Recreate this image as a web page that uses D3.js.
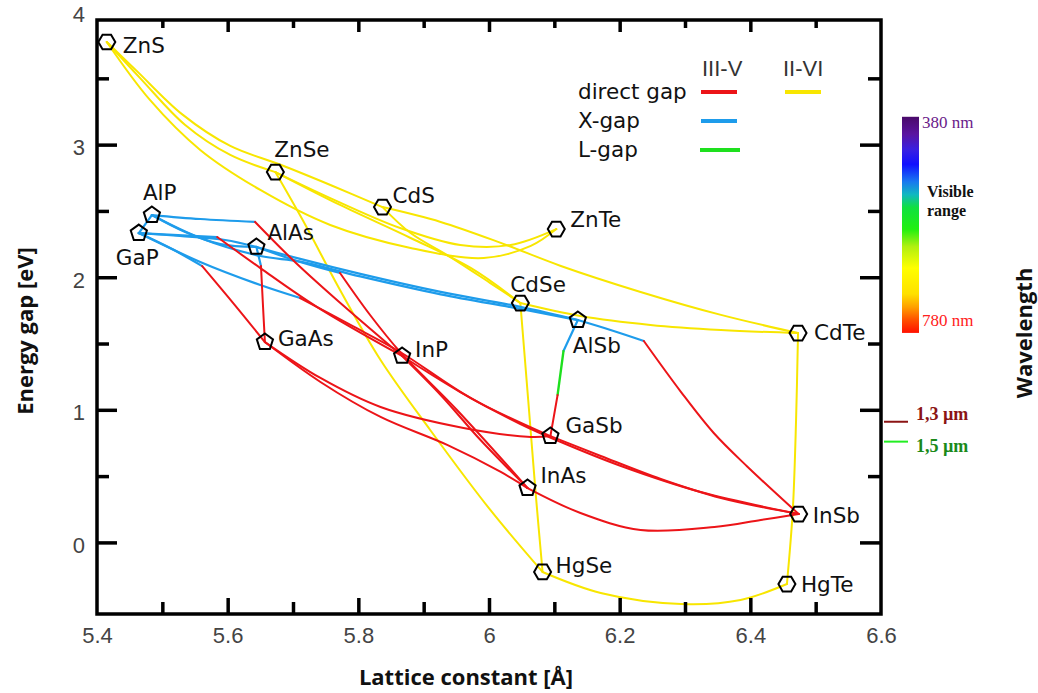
<!DOCTYPE html>
<html>
<head>
<meta charset="utf-8">
<script src="https://cdn.jsdelivr.net/npm/d3@7"></script>
<style>
  body { margin: 0; background: #fff; }
  text { font-family: "DejaVu Sans", sans-serif; }
</style>
</head>
<body>
<svg id="chart" width="1038" height="693"></svg>
<script>
// --- compounds: lattice constant [Å] and gap [eV]
const names   = ["ZnS","ZnSe","CdS","ZnTe","AlP","GaP","AlAs","GaAs","InP","CdSe","AlSb","CdTe","GaSb","InAs","InSb","HgSe","HgTe"];
const lattice = [5.415,5.673,5.837,6.103,5.484,5.464,5.644,5.657,5.867,6.048,6.136,6.473,6.094,6.059,6.474,6.082,6.456];
const gaps    = [3.774,2.793,2.529,2.363,2.469,2.333,2.228,1.511,1.406,1.805,1.677,1.579,0.802,0.410,0.214,-0.223,-0.314];
const shapes  = ["hex","hex","hex","hex","pent","pent","pent","pent","pent","hex","pent","hex","pent","pent","hex","hex","hex"];

// --- alloy curves as [a, Eg] points
const iiviCurves = [
  [[5.415,3.774],[5.466,3.502],[5.535,3.148],[5.604,2.922],[5.673,2.793]],                       // ZnS-ZnSe
  [[5.415,3.774],[5.460,3.560],[5.530,3.230],[5.604,2.990],[5.680,2.850],[5.760,2.690],[5.837,2.529]], // ZnS-CdS
  [[5.415,3.774],[5.481,3.337],[5.558,2.960],[5.650,2.658],[5.757,2.394],[5.880,2.221],[5.992,2.145],[6.064,2.236],[6.103,2.363]], // ZnS-ZnTe
  [[5.673,2.793],[5.757,2.597],[5.864,2.371],[5.956,2.243],[6.033,2.243],[6.103,2.363]],        // ZnSe-ZnTe
  [[5.673,2.793],[5.772,2.545],[5.880,2.296],[5.972,2.070],[6.048,1.805]],                      // ZnSe-CdSe
  [[5.837,2.529],[5.880,2.333],[5.941,2.152],[6.002,1.956],[6.048,1.805]],                      // CdS-CdSe
  [[5.837,2.529],[5.926,2.417],[6.018,2.259],[6.110,2.085],[6.232,1.889],[6.355,1.716],[6.473,1.579]], // CdS-CdTe
  [[6.048,1.805],[6.140,1.707],[6.247,1.640],[6.355,1.602],[6.473,1.579]],                      // CdSe-CdTe
  [[5.673,2.793],[5.719,2.394],[5.772,1.904],[5.834,1.376],[5.910,0.848],[6.002,0.245],[6.082,-0.223]], // ZnSe-HgSe
  [[6.048,1.805],[6.060,1.074],[6.071,0.395],[6.082,-0.223]],                                   // CdSe-HgSe
  [[6.473,1.579],[6.470,0.923],[6.465,0.245],[6.456,-0.314]],                                   // CdTe-HgTe
  [[6.082,-0.223],[6.171,-0.381],[6.294,-0.464],[6.385,-0.434],[6.456,-0.314]]                  // HgSe-HgTe
];

const xGapCurves = [
  [[5.484,2.469],[5.464,2.333]],                                                                 // AlP-GaP
  [[5.484,2.469],[5.535,2.341],[5.589,2.250],[5.644,2.228]],                                     // AlP-AlAs
  [[5.464,2.333],[5.527,2.311],[5.596,2.281],[5.644,2.228]],                                     // GaP-AlAs
  [[5.644,2.228],[5.711,2.138],[5.803,2.025],[5.926,1.889],[6.048,1.776],[6.136,1.677]],        // AlAs-AlSb
  [[5.484,2.469],[5.558,2.296],[5.650,2.160],[5.711,2.118],[5.803,2.006],[5.926,1.871],[6.048,1.761],[6.136,1.677]], // AlP-AlSb
  [[5.484,2.469],[5.558,2.439],[5.642,2.417]],                                                   // AlP-InP (X part)
  [[5.464,2.333],[5.584,2.303]],                                                                 // GaP-InP (X part)
  [[5.464,2.333],[5.512,2.220],[5.561,2.084]],                                                   // GaP-GaAs (X part)
  [[5.644,2.228],[5.651,2.084]],                                                                 // AlAs-GaAs (X part)
  [[5.464,2.333],[5.558,2.115],[5.650,1.941],[5.711,1.843]],                                     // GaP-GaSb (X part)
  [[5.644,2.228],[5.711,2.115],[5.772,2.032]],                                                   // AlAs-InAs (X part)
  [[6.136,1.677],[6.186,1.602],[6.237,1.519]],                                                   // AlSb-InSb (X part)
  [[6.136,1.677],[6.114,1.443]]                                                                  // AlSb-GaSb (X part)
];

const lGapCurves = [
  [[6.114,1.443],[6.105,1.112]]                                                                  // AlSb-GaSb (L part)
];

const directCurves = [
  [[5.642,2.417],[5.703,2.115],[5.762,1.851],[5.867,1.406]],                                     // AlP-InP
  [[5.584,2.303],[5.650,2.069],[5.737,1.775],[5.867,1.406]],                                     // GaP-InP
  [[5.561,2.084],[5.611,1.790],[5.657,1.511]],                                                   // GaP-GaAs
  [[5.651,2.084],[5.654,1.790],[5.657,1.511]],                                                   // AlAs-GaAs
  [[5.711,1.843],[5.788,1.640],[5.864,1.436],[5.972,1.089],[6.094,0.802]],                      // GaP-GaSb
  [[5.772,2.032],[5.818,1.715],[5.864,1.436],[5.951,0.999],[6.059,0.410]],                      // AlAs-InAs
  [[5.867,1.406],[5.926,1.112],[5.987,0.772],[6.059,0.410]],                                     // InP-InAs
  [[5.657,1.511],[5.742,1.210],[5.834,0.946],[5.936,0.735],[6.018,0.531],[6.059,0.410]],        // GaAs-InAs
  [[5.657,1.511],[5.742,1.240],[5.834,1.021],[5.961,0.863],[6.064,0.795],[6.094,0.802]],        // GaAs-GaSb
  [[6.059,0.410],[6.140,0.222],[6.232,0.094],[6.345,0.116],[6.416,0.169],[6.474,0.214]],        // InAs-InSb
  [[6.094,0.802],[6.171,0.652],[6.263,0.478],[6.355,0.335],[6.474,0.214]],                      // GaSb-InSb
  [[5.867,1.406],[5.956,1.134],[6.048,0.893],[6.110,0.757],[6.202,0.576],[6.324,0.380],[6.474,0.214]], // InP-InSb
  [[6.237,1.519],[6.294,1.134],[6.344,0.825],[6.396,0.569],[6.474,0.214]],                      // AlSb-InSb
  [[6.105,1.112],[6.094,0.802]]                                                                  // AlSb-GaSb
];

// axis ticks
const xMajor = [5.4, 5.6, 5.8, 6.0, 6.2, 6.4, 6.6];
const xMinor = [5.5, 5.7, 5.9, 6.1, 6.3, 6.5];
const xTopMajor = [5.6, 5.8, 6.0, 6.2, 6.4];
const xTopMinor = [5.5, 5.7, 5.9, 6.1, 6.3, 6.5];
const yMajor = [0, 1, 2, 3, 4];
const yMinor = [0.5, 1.5, 2.5, 3.5];

// right-hand wavelength annotations (energies)
const visibleLabels = ["380 nm", "780 nm"];
const visibleEnds = [3.21, 1.58];
const telecomLabels = ["1,3 µm", "1,5 µm"];
const telecomGaps = [0.91, 0.76];

// label offsets from marker (layout only)
const labelDx = [16,-1,10,14,-9,-23,11,13,13,-10,-5,16,15,13,14,13,14];
const labelDy = [11,-15,-4,-2,-15,32,-7,4,1,-11,33,7,-3,-5,9,1,8];

const svg = d3.select("#chart");

const x = d3.scaleLinear().domain([5.4, 6.6]).range([97, 881]);
const y = d3.scaleLinear().domain([-0.54, 3.94]).range([614, 20]);

const line = d3.line()
  .x(d => x(d[0]))
  .y(d => y(d[1]))
  .curve(d3.curveCatmullRom.alpha(0.5));

// curves
function drawCurves(curves, color, w) {
  svg.append("g").selectAll("path")
    .data(curves)
    .enter().append("path")
    .attr("d", line)
    .attr("fill", "none")
    .attr("stroke", color)
    .attr("stroke-width", w)
    .attr("stroke-linecap", "round");
}
drawCurves(iiviCurves, "#f8e600", 2);
drawCurves(xGapCurves, "#1e9ceb", 2.2);
drawCurves(lGapCurves, "#1ee01e", 2.4);
drawCurves(directCurves, "#ec1418", 2);

// axes
function styleAxis(g) {
  g.select(".domain").remove();
  g.selectAll(".tick line").attr("stroke", "#000").attr("stroke-width", 3.5);
  g.selectAll(".tick text")
    .attr("fill", "#444")
    .style("font-family", "'Liberation Sans', Arial, sans-serif")
    .style("font-size", "22px");
}

svg.append("g").attr("transform", "translate(0,614)")
  .call(d3.axisBottom(x).tickValues(xMajor).tickSize(-16).tickPadding(13).tickFormat(d3.format("")))
  .call(styleAxis)
  .call(g => g.selectAll(".tick line").filter(d => d === 5.4 || d === 6.6).remove());
svg.append("g").attr("transform", "translate(0,614)")
  .call(d3.axisBottom(x).tickValues(xMinor).tickSize(-12).tickFormat(""))
  .call(styleAxis);
svg.append("g").attr("transform", "translate(0,20)")
  .call(d3.axisTop(x).tickValues(xTopMajor).tickSize(-12).tickFormat(""))
  .call(styleAxis);
svg.append("g").attr("transform", "translate(0,20)")
  .call(d3.axisTop(x).tickValues(xTopMinor).tickSize(-8).tickFormat(""))
  .call(styleAxis);

svg.append("g").attr("transform", "translate(97,0)")
  .call(d3.axisLeft(y).tickValues(yMajor).tickSize(-20).tickPadding(12).tickFormat(d3.format("d")))
  .call(styleAxis)
  .call(g => g.selectAll(".tick text").attr("dy", "0.45em"))
  .call(g => g.selectAll(".tick line").filter(d => d === 4).remove());
svg.append("g").attr("transform", "translate(97,0)")
  .call(d3.axisLeft(y).tickValues(yMinor).tickSize(-12).tickFormat(""))
  .call(styleAxis);
svg.append("g").attr("transform", "translate(881,0)")
  .call(d3.axisRight(y).tickValues(yMajor.filter(v => v < 4)).tickSize(-21).tickFormat(""))
  .call(styleAxis);
svg.append("g").attr("transform", "translate(881,0)")
  .call(d3.axisRight(y).tickValues(yMinor).tickSize(-13).tickFormat(""))
  .call(styleAxis);

// frame
svg.append("rect")
  .attr("x", x(5.4)).attr("y", y(3.94))
  .attr("width", x(6.6) - x(5.4)).attr("height", y(-0.54) - y(3.94))
  .attr("fill", "none").attr("stroke", "#000").attr("stroke-width", 3.5);

// markers
function polygon(cx, cy, n, r, rot) {
  const pts = d3.range(n).map(i => {
    const a = rot + i * 2 * Math.PI / n;
    return [cx + r * Math.cos(a), cy + r * Math.sin(a)];
  });
  return "M" + pts.map(p => p.join(",")).join("L") + "Z";
}
const comp = names.map((n, i) => ({name: n, a: lattice[i], e: gaps[i], shape: shapes[i], dx: labelDx[i], dy: labelDy[i]}));

svg.append("g").selectAll("path")
  .data(comp)
  .enter().append("path")
  .attr("d", d => d.shape === "hex"
    ? polygon(x(d.a), y(d.e), 6, 8.5, 0)
    : polygon(x(d.a), y(d.e), 5, 8.5, -Math.PI / 2))
  .attr("fill", "none")
  .attr("stroke", "#000")
  .attr("stroke-width", 2);

svg.append("g").selectAll("text")
  .data(comp)
  .enter().append("text")
  .attr("x", d => x(d.a) + d.dx)
  .attr("y", d => y(d.e) + d.dy)
  .attr("fill", "#111")
  .style("font-size", "21.5px")
  .text(d => d.name);

// legend
const legend = svg.append("g");
[["direct gap", 99], ["X-gap", 128], ["L-gap", 157]].forEach(([t, ty]) => {
  legend.append("text").attr("x", 578).attr("y", ty).attr("fill", "#111")
    .style("font-size", "21.5px").text(t);
});
[["III-V", 702], ["II-VI", 783]].forEach(([t, tx]) => {
  legend.append("text").attr("x", tx).attr("y", 76).attr("fill", "#333")
    .style("font-family", "'Liberation Sans', Arial, sans-serif")
    .style("font-size", "22px").text(t);
});
[[701, 737, 92, "#ec1418"], [701, 737, 121, "#1e9ceb"], [700, 740, 150, "#1ee01e"], [785, 821, 92, "#f8e600"]]
  .forEach(([x1, x2, ly, c]) => {
    legend.append("line").attr("x1", x1).attr("x2", x2).attr("y1", ly).attr("y2", ly)
      .attr("stroke", c).attr("stroke-width", 4);
  });

// visible colour bar
const defs = svg.append("defs");
const grad = defs.append("linearGradient").attr("id", "vis")
  .attr("x1", 0).attr("x2", 0).attr("y1", 0).attr("y2", 1);
[[0, "#4a0a6a"], [0.08, "#5a14a0"], [0.15, "#3a20e0"], [0.22, "#1010ff"], [0.3, "#1878f0"],
 [0.36, "#10b8c0"], [0.42, "#10e040"], [0.52, "#20f010"], [0.6, "#b0f010"], [0.7, "#ffff00"],
 [0.82, "#ffe000"], [0.88, "#ffa000"], [0.94, "#ff5000"], [1, "#ff1000"]]
  .forEach(([o, c]) => grad.append("stop").attr("offset", o).attr("stop-color", c));

svg.append("rect")
  .attr("x", 902).attr("width", 17)
  .attr("y", y(visibleEnds[0])).attr("height", y(visibleEnds[1]) - y(visibleEnds[0]))
  .attr("fill", "url(#vis)");

const serif = "'Liberation Serif', 'Times New Roman', serif";
svg.append("text").attr("x", 922).attr("y", y(visibleEnds[0]) + 11).attr("fill", "#6a1a8a")
  .style("font-family", serif).style("font-size", "17px").text(visibleLabels[0]);
svg.append("text").attr("x", 922).attr("y", y(visibleEnds[1]) - 7).attr("fill", "#ff2020")
  .style("font-family", serif).style("font-size", "17px").text(visibleLabels[1]);
svg.append("text").attr("x", 927).attr("y", 197).attr("fill", "#111")
  .style("font-family", serif).style("font-size", "16px").style("font-weight", "bold").text("Visible");
svg.append("text").attr("x", 927).attr("y", 216).attr("fill", "#111")
  .style("font-family", serif).style("font-size", "16px").style("font-weight", "bold").text("range");

// telecom wavelengths
const telColors = ["#8b1414", "#1a8a1a"];
const telLine = ["#8b1414", "#22ee22"];
telecomGaps.forEach((g, i) => {
  svg.append("line").attr("x1", 884).attr("x2", 908).attr("y1", y(g)).attr("y2", y(g))
    .attr("stroke", telLine[i]).attr("stroke-width", 2);
  svg.append("text").attr("x", 916).attr("y", y(g) + (i === 0 ? -2 : 10)).attr("fill", telColors[i])
    .style("font-family", serif).style("font-size", "18px").style("font-weight", "bold").text(telecomLabels[i]);
});

// axis titles
const titleFont = "'Open Sans', sans-serif";
svg.append("text")
  .attr("transform", "translate(33,331) rotate(-90)")
  .attr("text-anchor", "middle")
  .style("font-family", titleFont).style("font-weight", "bold").style("font-size", "22px")
  .attr("fill", "#111")
  .text("Energy gap [eV]");
svg.append("text")
  .attr("x", 466).attr("y", 685)
  .attr("text-anchor", "middle")
  .style("font-family", titleFont).style("font-weight", "bold").style("font-size", "22px")
  .attr("fill", "#111")
  .text("Lattice constant [Å]");
svg.append("text")
  .attr("transform", "translate(1032,333) rotate(-90)")
  .attr("text-anchor", "middle")
  .style("font-family", titleFont).style("font-weight", "bold").style("font-size", "22px")
  .attr("fill", "#111")
  .text("Wavelength");
</script>
</body>
</html>
